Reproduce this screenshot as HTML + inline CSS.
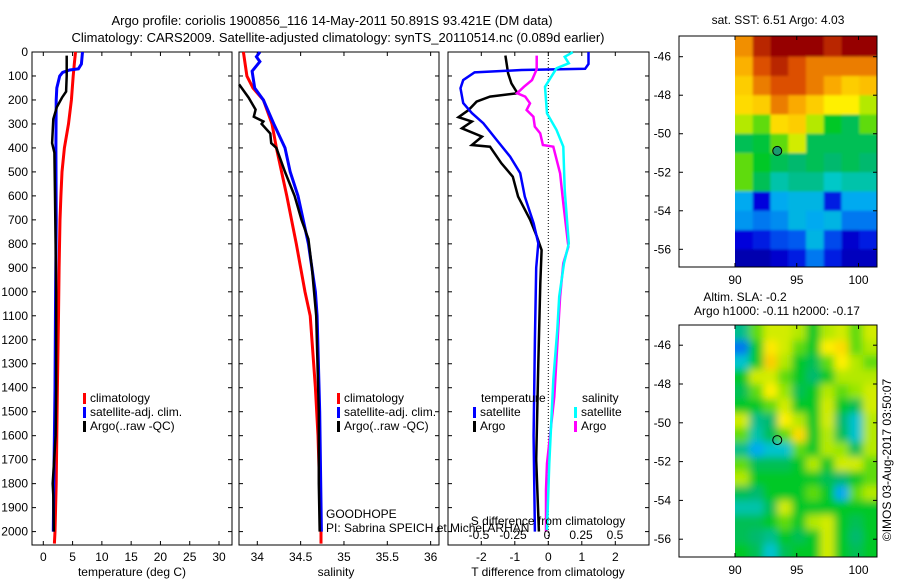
<!DOCTYPE html>
<html><head><meta charset="utf-8"><style>
body{margin:0;background:#fff}
svg{display:block;font-family:"Liberation Sans",sans-serif}
text{font-size:12px;fill:#000}
</style></head><body>
<svg id="fig" width="900" height="580" viewBox="0 0 900 580" xmlns="http://www.w3.org/2000/svg">
<defs>
<filter id="blur1" x="-10%" y="-10%" width="120%" height="120%"><feGaussianBlur stdDeviation="1.2"/></filter>
<filter id="blur2" x="-10%" y="-10%" width="120%" height="120%"><feGaussianBlur stdDeviation="4"/></filter>
<clipPath id="clip1"><rect x="735" y="36" width="142" height="231"/></clipPath>
<clipPath id="clip2"><rect x="735" y="325" width="142" height="232"/></clipPath>
</defs>
<text x="332" y="25" text-anchor="middle" style="font-size:13px">Argo profile: coriolis 1900856_116 14-May-2011 50.891S 93.421E (DM data)</text>
<text x="338" y="42" text-anchor="middle" style="font-size:13px">Climatology: CARS2009. Satellite-adjusted climatology: synTS_20110514.nc (0.089d earlier)</text>
<text x="778" y="24" text-anchor="middle">sat. SST: 6.51 Argo: 4.03</text>
<text x="745" y="301" text-anchor="middle">Altim. SLA: -0.2</text>
<text x="777" y="315" text-anchor="middle">Argo h1000: -0.11 h2000: -0.17</text>
<text transform="translate(891,460) rotate(-90)" text-anchor="middle">©IMOS 03-Aug-2017 03:50:07</text>
<g id="maps"></g>
<g id="panels"></g>
</svg>
<script>
// ---- data ----
const depthTicks=[0,100,200,300,400,500,600,700,800,900,1000,1100,1200,1300,1400,1500,1600,1700,1800,1900,2000];
const tempTicks=[0,5,10,15,20,25,30];
const salTicks=[34,34.5,35,35.5,36];
const salTickLabels=["34","34.5","35","35.5","36"];
const dTTicks=[-2,-1,0,1,2];
const dSTicks=[-0.5,-0.25,0,0.25,0.5];
const dSTickLabels=["-0.5","-0.25","0","0.25","0.5"];
const latTicks=[-46,-48,-50,-52,-54,-56];
const lonTicks=[90,95,100];

const climTDepth=[0,50,100,200,300,400,500,600,700,900,1100,1400,1600,1800,2000,2050];
const climT=[5.5,5.3,5.1,4.8,4.3,3.6,3.2,3.0,2.85,2.7,2.6,2.4,2.3,2.2,2.0,1.9];
const satTDepth=[0,50,70,75,85,100,150,200,400,700,1000,1400,1800,2000];
const satT=[6.7,6.5,6.0,4.5,3.3,2.8,2.3,2.2,2.15,2.2,2.1,2.0,1.8,1.7];
const argoTDepth=[15,100,165,190,230,280,330,380,420,600,800,1000,1400,1600,1800,1850,2000];
const argoT=[4.0,4.0,3.9,3.2,2.3,1.7,1.6,1.5,1.9,2.0,2.1,2.2,2.2,2.1,1.6,1.7,1.8];

const climSDepth=[0,100,150,200,300,400,500,600,800,1000,1100,1400,1600,2000,2050];
const climS=[33.84,33.88,33.95,34.07,34.17,34.22,34.28,34.34,34.45,34.55,34.61,34.67,34.70,34.735,34.735];
const satSDepth=[0,20,40,80,150,200,300,400,500,600,800,1000,1100,1500,2000];
const satS=[34.03,33.99,34.03,33.94,33.97,34.07,34.19,34.32,34.38,34.47,34.59,34.67,34.69,34.72,34.74];
const argoSDepth=[135,190,240,270,290,300,340,380,400,500,600,700,780,900,1100,1500,1800,2000];
const argoS=[33.79,33.9,33.98,33.96,34.07,34.05,34.15,34.16,34.22,34.32,34.43,34.51,34.59,34.63,34.68,34.71,34.71,34.72];

const satDTDepth=[0,50,70,75,85,117,151,213,255,297,367,436,505,603,714,798,900,1200,1600,2000];
const satDT=[1.2,1.2,1.1,-0.8,-2.2,-2.54,-2.62,-2.54,-2.28,-1.94,-1.54,-1.14,-0.84,-0.7,-0.44,-0.3,-0.36,-0.4,-0.44,-0.4];
const argoDTDepth=[15,89,131,172,186,207,242,272,290,318,353,388,395,464,520,603,700,770,826,965,1300,1700,2000];
const argoDT=[-1.28,-1.2,-1.1,-0.92,-1.74,-2.14,-2.38,-2.68,-2.28,-2.58,-1.98,-2.28,-1.74,-1.4,-1.06,-0.9,-0.54,-0.34,-0.2,-0.24,-0.3,-0.36,-0.28];
const satDSDepth=[1,20,47,68,145,256,325,395,575,798,881,1020,1159,1368,1715,1993];
const satDS=[0.19,0.13,0.16,0.07,-0.015,0.0,0.07,0.12,0.13,0.16,0.125,0.09,0.076,0.046,0.017,0.0];
const argoDSDepth=[15,72,117,145,172,186,214,242,270,311,339,388,395,506,631,812,881,1020,1437,1715,1826,2000];
const argoDS=[-0.076,-0.076,-0.11,-0.17,-0.22,-0.16,-0.125,-0.15,-0.1,-0.09,-0.05,-0.03,0.046,0.096,0.12,0.157,0.12,0.096,0.054,0.0,-0.007,-0.007];

const argoLon=93.421, argoLat=-50.891;
const sstGrid=[
[0.78,0.9,0.95,0.95,0.95,0.9,0.95,0.95],
[0.74,0.85,0.9,0.85,0.8,0.8,0.8,0.8],
[0.7,0.8,0.85,0.85,0.8,0.75,0.7,0.72],
[0.68,0.7,0.8,0.75,0.7,0.65,0.65,0.6],
[0.6,0.55,0.68,0.7,0.6,0.5,0.45,0.55],
[0.45,0.48,0.55,0.62,0.45,0.45,0.45,0.45],
[0.55,0.5,0.45,0.42,0.45,0.42,0.45,0.42],
[0.55,0.45,0.38,0.4,0.4,0.36,0.38,0.38],
[0.3,0.12,0.3,0.32,0.32,0.15,0.3,0.3],
[0.28,0.25,0.27,0.32,0.3,0.32,0.25,0.25],
[0.12,0.15,0.2,0.22,0.32,0.2,0.1,0.15],
[0.06,0.06,0.1,0.15,0.25,0.15,0.08,0.08]];
const slaGrid=[
[0.4,0.55,0.62,0.62,0.6,0.5,0.6,0.62,0.55,0.62],
[0.25,0.5,0.66,0.62,0.55,0.5,0.65,0.68,0.55,0.6],
[0.35,0.5,0.7,0.6,0.5,0.45,0.55,0.65,0.6,0.55],
[0.5,0.62,0.62,0.55,0.5,0.42,0.5,0.6,0.6,0.6],
[0.45,0.55,0.65,0.58,0.45,0.5,0.6,0.55,0.58,0.62],
[0.5,0.5,0.55,0.62,0.5,0.5,0.62,0.5,0.45,0.62],
[0.62,0.4,0.42,0.65,0.6,0.5,0.62,0.42,0.35,0.6],
[0.55,0.38,0.45,0.55,0.68,0.5,0.6,0.45,0.35,0.6],
[0.4,0.3,0.35,0.35,0.55,0.5,0.6,0.58,0.45,0.6],
[0.55,0.45,0.45,0.45,0.5,0.6,0.5,0.62,0.62,0.55],
[0.6,0.5,0.5,0.5,0.5,0.5,0.45,0.42,0.5,0.55],
[0.45,0.42,0.5,0.5,0.5,0.55,0.5,0.3,0.55,0.6],
[0.38,0.38,0.45,0.62,0.5,0.5,0.5,0.5,0.5,0.5],
[0.45,0.45,0.5,0.55,0.5,0.6,0.62,0.5,0.45,0.5],
[0.45,0.42,0.4,0.5,0.45,0.5,0.62,0.5,0.42,0.5],
[0.5,0.45,0.35,0.45,0.5,0.5,0.62,0.5,0.45,0.5]];

// ---- scales ----
const NS="http://www.w3.org/2000/svg";
const P=document.getElementById('panels'), M=document.getElementById('maps');
const yD=d=>52+d*0.2398;
const xT=t=>43.3+t*5.857;
const xS=s=>257.3+(s-34)*86.67;
const xDT=v=>548.3+v*33.5;
const xDS=v=>547+v*136;
const lonX=l=>735+(l-90)*12.35;
const lat1=l=>56.7+(-46-l)*19.26;
const lat2=l=>345.2+(-46-l)*19.4;
function mk(tag,attrs,parent){const e=document.createElementNS(NS,tag);for(const k in attrs)e.setAttribute(k,attrs[k]);parent.appendChild(e);return e;}
function txt(s,x,y,anchor,parent){const e=mk('text',{x:x,y:y,'text-anchor':anchor},parent);e.textContent=s;return e;}
function line(depths,vals,xf,color,w,name){
  const pts=depths.map((d,i)=>xf(vals[i]).toFixed(1)+','+yD(d).toFixed(1)).join(' ');
  const e=mk('polyline',{points:pts,fill:'none',stroke:color,'stroke-width':w,'stroke-linejoin':'miter'},P);
  
  
}
const cmapStops=[[0,0,0,130],[0.12,0,0,220],[0.22,0,90,240],[0.3,0,170,240],[0.36,0,200,200],[0.42,0,185,110],[0.5,0,200,40],[0.58,150,230,0],[0.65,255,240,0],[0.75,250,170,0],[0.85,220,80,0],[0.95,150,0,0],[1,130,0,0]];
function cmap(v){
  for(let i=1;i<cmapStops.length;i++){const a=cmapStops[i-1],b=cmapStops[i];
    if(v<=b[0]){const f=(v-a[0])/(b[0]-a[0]);return `rgb(${Math.round(a[1]+f*(b[1]-a[1]))},${Math.round(a[2]+f*(b[2]-a[2]))},${Math.round(a[3]+f*(b[3]-a[3]))})`;}}
  return 'rgb(130,0,0)';
}

// ---- profile panels ----
const panels=[{l:32,r:232,n:'temperature'},{l:239,r:439,n:'salinity'},{l:448,r:649,n:'difference'}];
const yTop=52,yBot=545;
panels.forEach(p=>{
  const f=mk('rect',{x:p.l,y:yTop,width:p.r-p.l,height:yBot-yTop,fill:'none',stroke:'#000','stroke-width':1},P);
  
  
  depthTicks.forEach(d=>{
    mk('line',{x1:p.l,x2:p.l+4,y1:yD(d),y2:yD(d),stroke:'#000'},P);
    mk('line',{x1:p.r,x2:p.r-4,y1:yD(d),y2:yD(d),stroke:'#000'},P);
  });
});
depthTicks.forEach(d=>{
  const t=txt(String(d),28,yD(d)+4,'end',P);
  
  
});
tempTicks.forEach(v=>{
  mk('line',{x1:xT(v),x2:xT(v),y1:yTop,y2:yTop+4,stroke:'#000'},P);
  mk('line',{x1:xT(v),x2:xT(v),y1:yBot,y2:yBot-4,stroke:'#000'},P);
  const t=txt(String(v),xT(v),561,'middle',P);
  
  
});
salTicks.forEach((v,i)=>{
  mk('line',{x1:xS(v),x2:xS(v),y1:yTop,y2:yTop+4,stroke:'#000'},P);
  mk('line',{x1:xS(v),x2:xS(v),y1:yBot,y2:yBot-4,stroke:'#000'},P);
  const t=txt(salTickLabels[i],xS(v),561,'middle',P);
  
  
});
dTTicks.forEach(v=>{
  mk('line',{x1:xDT(v),x2:xDT(v),y1:yTop,y2:yTop+4,stroke:'#000'},P);
  mk('line',{x1:xDT(v),x2:xDT(v),y1:yBot,y2:yBot-4,stroke:'#000'},P);
  const t=txt(String(v),xDT(v),561,'middle',P);
  
  
});
const dotted=mk('line',{x1:xDT(0),x2:xDT(0),y1:yTop,y2:yBot,stroke:'#000','stroke-dasharray':'1,2'},P);



let t;
t=txt('temperature (deg C)',132,576,'middle',P);


t=txt('salinity',336,576,'middle',P);


t=txt('T difference from climatology',548,576,'middle',P);



// series
line(climTDepth,climT,xT,'#f00',3,'temp-climatology-line');
line(satTDepth,satT,xT,'#00f',3,'temp-satellite-line');
line(argoTDepth,argoT,xT,'#000',2.5,'temp-argo-line');
line(climSDepth,climS,xS,'#f00',3,'sal-climatology-line');
line(satSDepth,satS,xS,'#00f',3,'sal-satellite-line');
line(argoSDepth,argoS,xS,'#000',2.5,'sal-argo-line');
line(argoDTDepth,argoDT,xDT,'#000',2.5,'t-diff-argo-line');
line(satDTDepth,satDT,xDT,'#00f',2.5,'t-diff-satellite-line');
line(argoDSDepth,argoDS,xDS,'#f0f',2.5,'s-diff-argo-line');
line(satDSDepth,satDS,xDS,'#0ff',2.5,'s-diff-satellite-line');

// S diff axis inside panel 3
dSTicks.forEach((v,i)=>{
  const e=txt(dSTickLabels[i],xDS(v),539,'middle',P);
  
  
});
t=txt('S difference from climatology',548,525,'middle',P);



// legends
function legend(x,y,color,label,name){
  const r=mk('rect',{x:x,y:y-9,width:3,height:11,fill:color},P);
  
  
  const e=txt(label,x+7,y,'start',P);
  
  
}
legend(83,402,'#f00','climatology','temp-legend-climatology');
legend(83,416,'#00f','satellite-adj. clim.','temp-legend-satellite');
legend(83,430,'#000','Argo(..raw -QC)','temp-legend-argo');
legend(337,402,'#f00','climatology','sal-legend-climatology');
legend(337,416,'#00f','satellite-adj. clim.','sal-legend-satellite');
legend(337,430,'#000','Argo(..raw -QC)','sal-legend-argo');
t=txt('temperature',481,402,'start',P);


t=txt('salinity',582,402,'start',P);


legend(473,416,'#00f','satellite','diff-legend-t-satellite');
legend(473,430,'#000','Argo','diff-legend-t-argo');
legend(574,416,'#0ff','satellite','diff-legend-s-satellite');
legend(574,430,'#f0f','Argo','diff-legend-s-argo');
t=txt('GOODHOPE',326,518,'start',P);


t=txt('PI: Sabrina SPEICH et Michel ARHAN',326,532,'start',P);



// ---- maps ----
function drawMap(grid,latY,top,bot,name,fillMarker,clipId,blurId){
  const rows=grid.length, cols=grid[0].length;
  const lonStep=11.5/cols, latStep=12/rows;
  const clipG=mk('g',{'clip-path':'url(#'+clipId+')'},M);
  const g=mk('g',{filter:'url(#'+blurId+')'},clipG);
  
  
  grid.forEach((row,ri)=>row.forEach((v,ci)=>{
    let x0=lonX(90+ci*lonStep), x1=lonX(90+(ci+1)*lonStep);
    let y0=latY(-45-ri*latStep), y1=latY(-45-(ri+1)*latStep);
    if(ci===0)x0-=15; if(ci===cols-1)x1+=15;
    if(ri===0)y0-=15; if(ri===rows-1)y1+=15;
    const c=mk('rect',{x:x0,y:y0,width:x1-x0+0.6,height:y1-y0+0.6,fill:cmap(v)},g);
    
    
  }));
  const f=mk('rect',{x:679,y:top,width:198,height:bot-top,fill:'none',stroke:'#000'},M);
  
  
  latTicks.forEach(l=>{
    mk('line',{x1:679,x2:683,y1:latY(l),y2:latY(l),stroke:'#000'},M);
    mk('line',{x1:877,x2:873,y1:latY(l),y2:latY(l),stroke:'#000'},M);
    const e=txt(String(l),671,latY(l)+4,'end',M);
    
    
  });
  lonTicks.forEach(l=>{
    mk('line',{x1:lonX(l),x2:lonX(l),y1:bot,y2:bot-4,stroke:'#000'},M);
    mk('line',{x1:lonX(l),x2:lonX(l),y1:top,y2:top+4,stroke:'#000'},M);
    const e=txt(String(l),lonX(l),bot+17,'middle',M);
    
    
  });
  const m=mk('circle',{cx:lonX(argoLon),cy:latY(argoLat),r:4.5,fill:fillMarker,stroke:'#000','stroke-width':1},M);
  
  
}
drawMap(sstGrid,lat1,36,267,'sst-map','#1a9a70','clip1','blur1');
drawMap(slaGrid,lat2,325,557,'sla-map','none','clip2','blur2');
</script>
</body></html>
